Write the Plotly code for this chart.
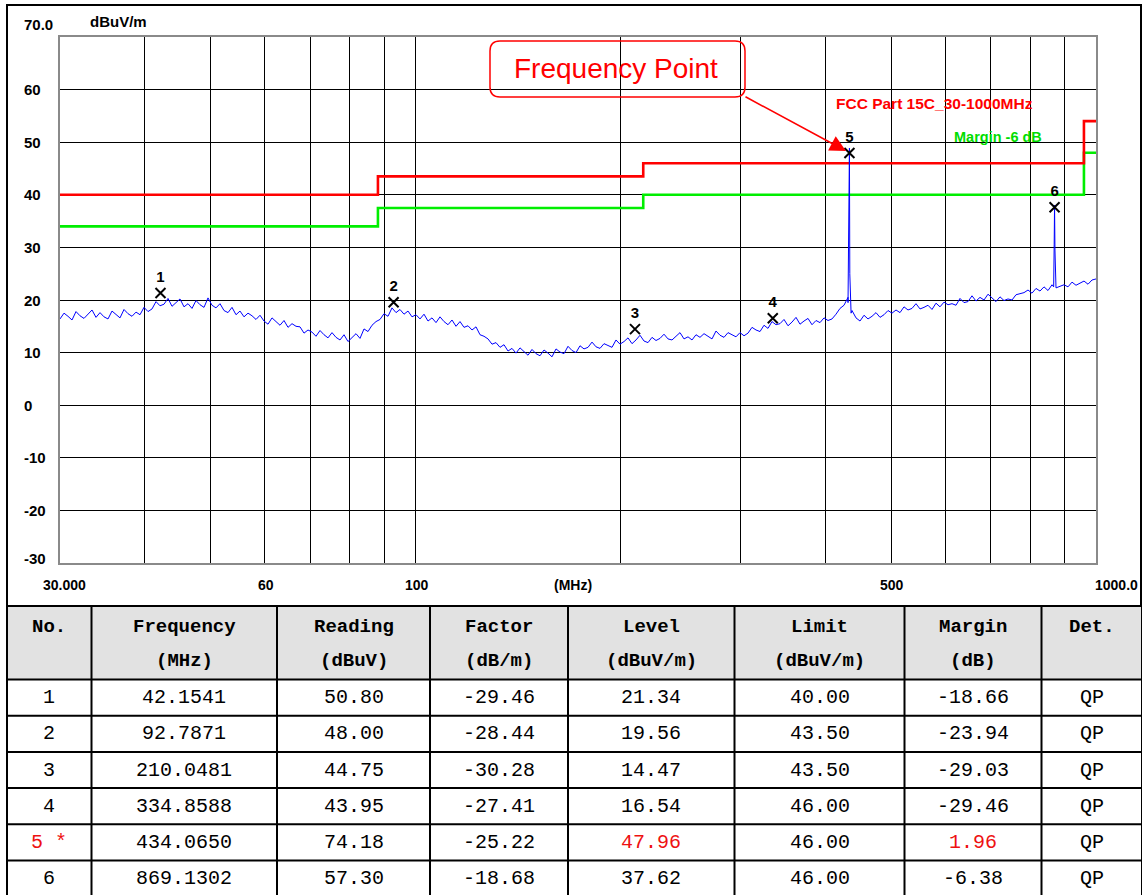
import numpy as np
import plotly.graph_objects as go

W, H = 1142, 895

# ---------------- data ----------------
# measured trace levels (dBuV/m) along the sweep 30 MHz -> 1000 MHz (read from picture)
trace_levels = [
    16.4, 17.5, 16.9, 16.2, 17.8, 17.0, 16.5, 17.3, 18.1, 16.7,
    17.6, 16.8, 16.4, 17.9, 17.2, 16.6, 18.2, 17.4, 16.9, 17.7,
    17.2, 18.6, 17.8, 18.3, 19.7, 18.9, 19.2, 20.3, 18.8, 19.6,
    20.2, 18.7, 19.3, 18.4, 19.9, 19.1, 18.6, 20.4, 19.0, 18.5,
    19.3, 18.0, 17.6, 18.6, 17.2, 17.9, 16.8, 17.5, 17.0, 16.3,
    17.1, 16.0, 15.4, 16.6, 15.8, 15.2, 16.1, 14.8, 15.5, 15.0,
    14.9, 13.7, 14.3, 13.9, 13.1, 14.2, 13.4, 12.8, 13.8, 12.9,
    12.4, 13.4, 12.1, 12.9, 13.6, 12.7, 14.5, 14.0, 15.2, 15.9,
    16.3, 17.4, 16.9, 18.5, 17.6, 18.2, 17.3, 17.9, 16.8, 17.2,
    16.4, 17.3, 16.0, 16.6, 15.7, 16.8, 15.9, 15.3, 16.2, 15.0,
    15.9, 14.8, 15.1, 14.3, 14.9, 13.4, 13.1, 12.6, 11.6, 11.9,
    11.0, 11.5, 10.3, 10.8, 9.9, 10.9, 10.2, 9.5, 10.6, 9.8,
    9.4, 10.5, 9.9, 9.2, 10.7, 10.1, 9.8, 11.2, 10.4, 10.0,
    11.3, 10.7, 11.0, 12.0, 11.1, 10.8, 11.7, 11.4, 11.0, 12.4,
    11.6, 12.1, 12.8, 11.7, 12.4, 13.3, 12.2, 11.9, 12.9, 12.3,
    12.7, 13.5, 12.6, 12.4, 13.2, 13.8, 12.6, 13.0, 12.4, 13.4,
    12.9, 13.6, 13.1, 12.6, 14.1, 13.3, 12.9, 13.8, 13.4, 13.0,
    13.8, 13.2, 13.7, 14.8, 14.3, 14.0, 15.2, 14.6, 15.9, 15.3,
    15.5, 16.3, 15.1, 15.8, 16.7, 15.4, 16.0, 16.5, 15.3, 16.1,
    15.7, 16.6, 16.1, 16.4, 17.3, 18.4, 19.0, 20.5, 18.0, 16.6,
    16.0, 17.1, 16.4, 16.9, 17.6, 16.7, 17.2, 18.0, 17.5, 18.1,
    17.6, 18.7, 18.1, 18.4, 19.3, 18.3, 18.6, 19.0, 18.2, 19.4,
    18.7, 19.6, 19.1, 19.3, 19.0, 20.3, 19.5, 19.7, 20.8, 19.8,
    20.5, 20.0, 21.1, 20.4, 19.7, 20.6, 19.9, 20.2, 20.0, 21.0,
    21.2, 21.4, 21.9, 21.3, 22.2, 21.7, 22.5, 21.8, 22.9, 22.3,
    22.6, 22.9, 22.5, 23.4, 22.8, 23.2, 23.6, 23.0, 23.8, 24.0,
]
spike5_freqs = [432.0, 433.0, 433.6, 434.065, 434.6, 435.3, 436.5]
spike5_levels = [19.5, 33.5, 30.0, 48.9, 25.0, 20.5, 17.5]
spike6_freqs = [866.5, 868.0, 869.13, 870.3, 871.5]
spike6_levels = [22.5, 30.5, 38.0, 29.5, 22.3]

limit_freqs = [30, 88, 216, 960, 1000]
limit_levels = [40.0, 43.5, 46.0, 54.0, 54.0]
margin_offset = -6.0

marker_no = ["1", "2", "3", "4", "5 *", "6"]
freq_mhz = [42.1541, 92.7871, 210.0481, 334.8588, 434.0650, 869.1302]
reading = [50.80, 48.00, 44.75, 43.95, 74.18, 57.30]
factor = [-29.46, -28.44, -30.28, -27.41, -25.22, -18.68]
level = [21.34, 19.56, 14.47, 16.54, 47.96, 37.62]
limit = [40.00, 43.50, 43.50, 46.00, 46.00, 46.00]
margin = [-18.66, -23.94, -29.03, -29.46, 1.96, -6.38]
det = ["QP", "QP", "QP", "QP", "QP", "QP"]
highlight_row = 4

header_top = ["No.", "Frequency", "Reading", "Factor", "Level", "Limit", "Margin", "Det."]
header_units = ["", "(MHz)", "(dBuV)", "(dB/m)", "(dBuV/m)", "(dBuV/m)", "(dB)", ""]

y_tick_vals = [60, 50, 40, 30, 20, 10, 0, -10, -20, -30]
x_grid_vals = [40, 50, 60, 70, 80, 90, 100, 200, 300, 400, 500, 600, 700, 800, 900]
x_label_vals = [30, 60, 100, 500, 1000]
x_label_text = ["30.000", "60", "100", "500", "1000.0"]

# ---------------- helpers (pixel -> paper) ----------------
def px(x):
    return x / W

def py(y):
    return 1 - y / H

# ---------------- build figure ----------------
sweep_freqs = np.geomspace(30, 1000, len(trace_levels))
all_f = np.concatenate([sweep_freqs, spike5_freqs, spike6_freqs])
all_l = np.concatenate([trace_levels, spike5_levels, spike6_levels])
order = np.argsort(all_f)

fig = go.Figure()

fig.add_trace(go.Scatter(x=limit_freqs, y=[v + margin_offset for v in limit_levels],
                         mode="lines", line=dict(color="#00ee00", width=2.6, shape="hv"),
                         hoverinfo="skip"))
fig.add_trace(go.Scatter(x=limit_freqs, y=limit_levels, mode="lines",
                         line=dict(color="#ff0000", width=2.6, shape="hv"), hoverinfo="skip"))
fig.add_trace(go.Scatter(x=all_f[order], y=all_l[order], mode="lines",
                         line=dict(color="#0000ff", width=1)))
fig.add_trace(go.Scatter(x=freq_mhz, y=level, mode="markers+text",
                         marker=dict(symbol="x-thin", size=10, color="black",
                                     line=dict(color="black", width=2)),
                         text=[f"<b>{i + 1}</b>" for i in range(len(freq_mhz))],
                         textposition="top center",
                         textfont=dict(family="Liberation Sans", size=15, color="black")))

axis_common = dict(showgrid=True, gridcolor="black", gridwidth=1, showticklabels=False,
                   ticks="", showline=True, linecolor="#8a8a8a", linewidth=2, mirror=True,
                   zeroline=False)
fig.update_layout(
    width=W, height=H, margin=dict(l=0, r=0, t=0, b=0),
    paper_bgcolor="white", plot_bgcolor="white", showlegend=False,
    xaxis=dict(type="log", range=[np.log10(30), 3], domain=[px(60), px(1096)],
               tickvals=x_grid_vals, **axis_common),
    yaxis=dict(range=[-30, 70], domain=[py(563), py(37)], tickvals=y_tick_vals[:-1],
               **axis_common),
)

ann = []
lab_font = dict(family="Liberation Sans", size=15, color="black")
xlab_font = dict(family="Liberation Sans", size=14, color="black")
# y labels
for v in y_tick_vals:
    ann.append(dict(x=px(22), xref="paper", y=v, yref="y", text=f"<b>{v}</b>",
                    showarrow=False, xanchor="left", yanchor="middle", font=lab_font,
                    yshift=5 if v == -30 else 0))
ann.append(dict(x=px(22), xref="paper", y=70, yref="y", text="<b>70.0</b>", showarrow=False,
                xanchor="left", yanchor="middle", font=lab_font, yshift=13))
ann.append(dict(x=px(88), xref="paper", y=py(21), yref="paper", text="<b>dBuV/m</b>",
                showarrow=False, xanchor="left", yanchor="middle", font=lab_font))
# x labels
for v, t in zip(x_label_vals, x_label_text):
    if v == 1000:
        ann.append(dict(x=px(1140), xref="paper", y=py(585), yref="paper", text=f"<b>{t}</b>",
                        showarrow=False, xanchor="right", yanchor="middle", font=xlab_font))
    else:
        ann.append(dict(x=np.log10(v), xref="x", y=py(585), yref="paper", text=f"<b>{t}</b>",
                        showarrow=False, xanchor="center", yanchor="middle", font=xlab_font,
                        xshift=4 if v == 30 else 1))
ann.append(dict(x=px(573), xref="paper", y=py(585), yref="paper", text="<b>(MHz)</b>",
                showarrow=False, xanchor="center", yanchor="middle", font=xlab_font))
# limit legend texts
ann.append(dict(x=px(834), xref="paper", y=py(104), yref="paper",
                text="<b>FCC Part 15C_30-1000MHz</b>", showarrow=False, xanchor="left",
                yanchor="middle", font=dict(family="Liberation Sans", size=15.5, color="#ff0000")))
ann.append(dict(x=px(952), xref="paper", y=py(137), yref="paper", text="<b>Margin -6 dB</b>",
                showarrow=False, xanchor="left", yanchor="middle",
                font=dict(family="Liberation Sans", size=14.5, color="#00dd00")))
# callout
ann.append(dict(x=px(616), xref="paper", y=py(68), yref="paper", text="Frequency Point",
                showarrow=False, xanchor="center", yanchor="middle",
                font=dict(family="Liberation Sans", size=28, color="#ff0000")))
ann.append(dict(x=px(846), xref="paper", y=py(151), yref="paper", text="", showarrow=True,
                ax=-102, ay=-55, axref="pixel", ayref="pixel", arrowhead=2, arrowsize=2,
                arrowwidth=1.6, arrowcolor="#ff0000"))

shapes = []
# rounded callout box
x0, x1, y0, y1, r = 490, 745, 41, 97, 10
pts = [("M", (x0 + r, y0)), ("L", (x1 - r, y0)), ("Q", (x1, y0), (x1, y0 + r)),
       ("L", (x1, y1 - r)), ("Q", (x1, y1), (x1 - r, y1)), ("L", (x0 + r, y1)),
       ("Q", (x0, y1), (x0, y1 - r)), ("L", (x0, y0 + r)), ("Q", (x0, y0), (x0 + r, y0))]
path = ""
for p in pts:
    path += p[0] + " " + " ".join(f"{px(a):.5f},{py(b):.5f}" for a, b in p[1:]) + " "
path += "Z"
shapes.append(dict(type="path", xref="paper", yref="paper", path=path,
                   line=dict(color="#ff0000", width=1.5)))
# outer chart frame
shapes.append(dict(type="rect", xref="paper", yref="paper", x0=px(7), x1=px(1141),
                   y0=py(606), y1=py(5), line=dict(color="black", width=2)))

# ---------------- table ----------------
col_edges = [7, 91.5, 277, 430, 568, 734.5, 904.5, 1041.5, 1142]
header_y0, header_y1 = 606, 679.5
row_h = 36.2
shapes.append(dict(type="rect", xref="paper", yref="paper", x0=px(col_edges[0]), x1=px(1142),
                   y0=py(header_y1), y1=py(header_y0), fillcolor="#e2e2e2",
                   line=dict(width=0), layer="below"))
n_rows = len(freq_mhz)
row_edges = [header_y0, header_y1] + [header_y1 + row_h * (i + 1) for i in range(n_rows)]
for yy in row_edges:
    shapes.append(dict(type="line", xref="paper", yref="paper", x0=px(col_edges[0]), x1=px(1142),
                       y0=py(yy), y1=py(yy), line=dict(color="black", width=2)))
for xx in col_edges:
    shapes.append(dict(type="line", xref="paper", yref="paper", x0=px(xx), x1=px(xx),
                       y0=py(row_edges[-1]), y1=py(header_y0), line=dict(color="black", width=2)))

cell_font = "Liberation Mono"
centers = [(col_edges[i] + col_edges[i + 1]) / 2 for i in range(len(col_edges) - 1)]
for c, (t1, t2) in enumerate(zip(header_top, header_units)):
    ann.append(dict(x=px(centers[c]), xref="paper", y=py(627), yref="paper", text=f"<b>{t1}</b>",
                    showarrow=False, xanchor="center", yanchor="middle",
                    font=dict(family=cell_font, size=19, color="black")))
    if t2:
        ann.append(dict(x=px(centers[c]), xref="paper", y=py(661), yref="paper",
                        text=f"<b>{t2}</b>", showarrow=False, xanchor="center", yanchor="middle",
                        font=dict(family=cell_font, size=19, color="black")))

columns = [marker_no,
           [f"{v:.4f}" for v in freq_mhz],
           [f"{v:.2f}" for v in reading],
           [f"{v:.2f}" for v in factor],
           [f"{v:.2f}" for v in level],
           [f"{v:.2f}" for v in limit],
           [f"{v:.2f}" for v in margin],
           det]
red_cols = {0, 4, 6}
for c, col in enumerate(columns):
    for r_i, txt in enumerate(col):
        yc = header_y1 + row_h * (r_i + 0.5)
        color = "#ee1111" if (r_i == highlight_row and c in red_cols) else "black"
        ann.append(dict(x=px(centers[c]), xref="paper", y=py(yc), yref="paper", text=txt,
                        showarrow=False, xanchor="center", yanchor="middle",
                        font=dict(family=cell_font, size=20, color=color)))

fig.update_layout(annotations=ann, shapes=shapes)

fig.write_html("out.html", config={"displayModeBar": False},
               post_script="document.body.style.margin='0';document.body.style.overflow='hidden';")
